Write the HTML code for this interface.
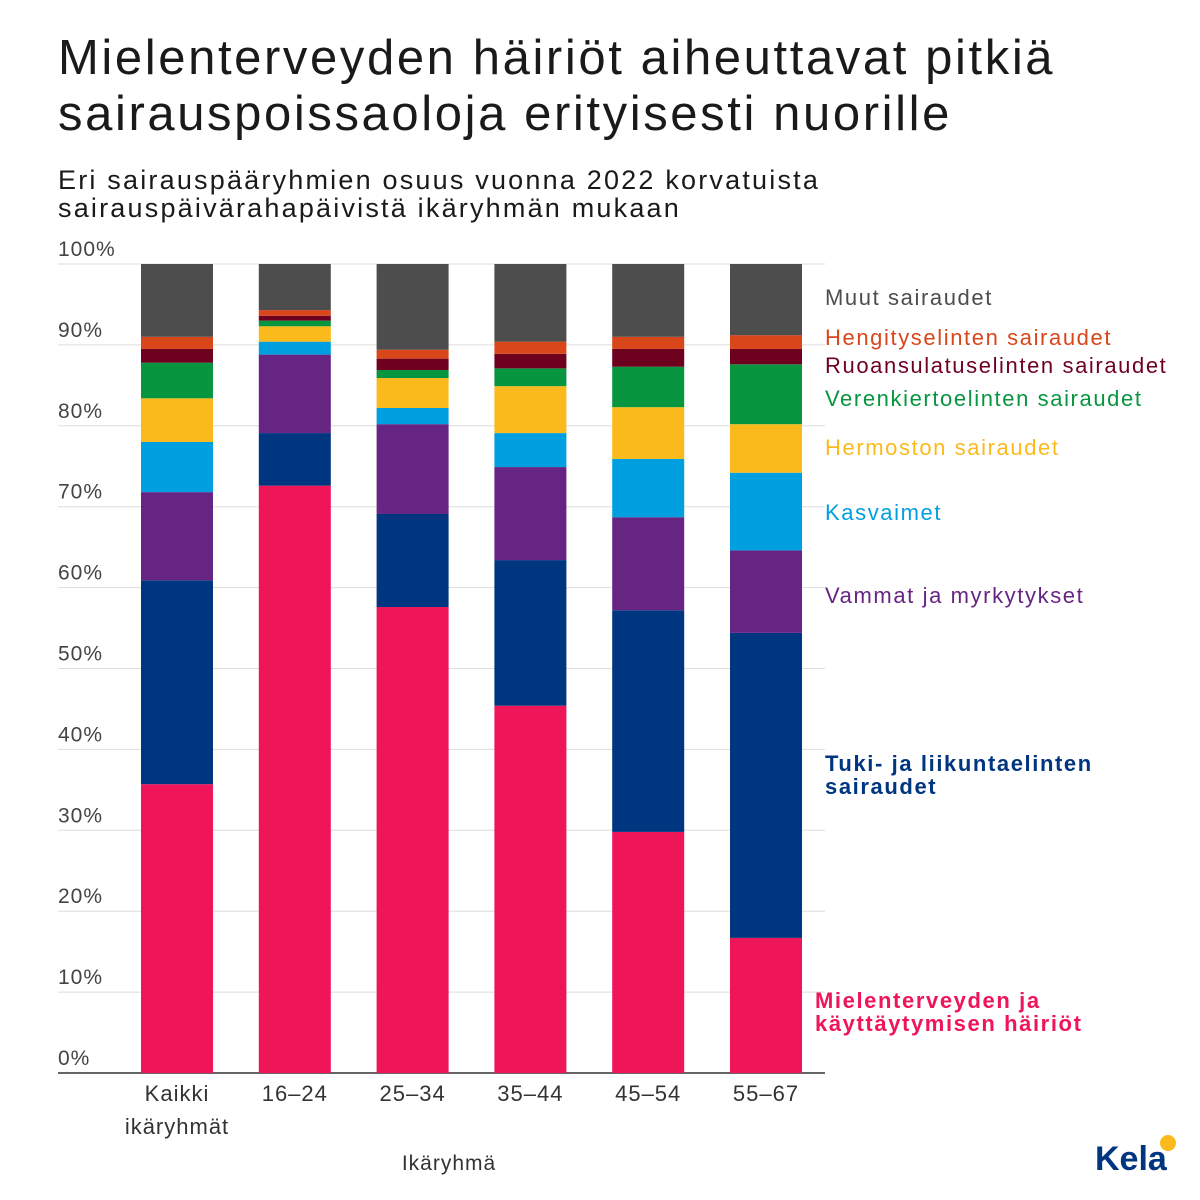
<!DOCTYPE html>
<html><head><meta charset="utf-8"><style>
body{margin:0;background:#fff;font-family:"Liberation Sans",sans-serif;}
#wrap{position:relative;width:1200px;height:1200px;overflow:hidden;}
.t{position:absolute;white-space:nowrap;}
</style></head><body>
<div id="wrap">
<div class="t" style="left:58px;top:30px;font-size:49px;line-height:56px;letter-spacing:2.6px;color:#1a1a1a;">Mielenterveyden häiriöt aiheuttavat pitkiä<br>sairauspoissaoloja erityisesti nuorille</div>
<div class="t" style="left:58px;top:166px;font-size:27px;line-height:28px;letter-spacing:2.2px;color:#1a1a1a;">Eri sairauspääryhmien osuus vuonna 2022 korvatuista<br>sairauspäivärahapäivistä ikäryhmän mukaan</div>
<svg id="chart" width="1200" height="1200" style="position:absolute;left:0;top:0"></svg>
<div class="t" style="left:1095px;top:1140px;font-size:34px;font-weight:bold;color:#003580;">Kela</div>
<div class="t" style="left:1160px;top:1135px;width:16px;height:16px;border-radius:50%;background:#FBBA1B;"></div>
</div>
<script>
const categories=["Kaikki ikäryhmät","16–24","25–34","35–44","45–54","55–67"];
const mental=[35.7,72.6,57.6,45.4,29.8,16.7];
const tuki=[25.2,6.5,11.5,18.0,27.4,37.7];
const vammat=[10.9,9.7,11.1,11.5,11.5,10.2];
const kasvaimet=[6.2,1.6,2.0,4.2,7.2,9.6];
const hermosto=[5.4,1.9,3.7,5.8,6.4,6.0];
const verenkierto=[4.4,0.7,1.0,2.2,5.0,7.4];
const ruoansulatus=[1.7,0.6,1.4,1.8,2.2,1.9];
const hengitys=[1.5,0.7,1.1,1.5,1.5,1.7];
const muut=[9.0,5.7,10.6,9.6,9.0,8.8];
const yTicks=[0,10,20,30,40,50,60,70,80,90,100];
const series=[mental,tuki,vammat,kasvaimet,hermosto,verenkierto,ruoansulatus,hengitys,muut];
const colors=["#EE1559","#003580","#662483","#009FDF","#FBBA1B","#07963F","#6E0020","#D9461A","#4D4D4D"];
const NS="http://www.w3.org/2000/svg";
const svg=document.getElementById('chart');
const y0=1073,y100=264,xL=58,xR=825;
const y=v=>y0-(y0-y100)*v/100;
const x=i=>177+i*117.8;
const bw=72;
function mk(tag,attrs){const e=document.createElementNS(NS,tag);for(const k in attrs)e.setAttribute(k,attrs[k]);svg.appendChild(e);return e;}
yTicks.forEach(t=>{
  const l=mk('line',{x1:xL,x2:xR,y1:y(t),y2:y(t),stroke:t===0?'#333':'#ddd','stroke-width':t===0?1.5:1});
  
  
  const tx=mk('text',{x:xL,y:y(t)-8,'font-size':21,fill:'#444','letter-spacing':1,'font-family':'Liberation Sans, sans-serif'});
  tx.textContent=t+'%';
  
  
});
categories.forEach((c,i)=>{
  let cum=0;
  series.forEach((s,j)=>{
    const top=cum+s[i];
    const r=mk('rect',{x:x(i)-bw/2,y:y(top),width:bw,height:y(cum)-y(top),fill:colors[j]});
    
    
    cum=top;
  });
  const parts=c.split(' ');
  parts.forEach((p,k)=>{
    const tx=mk('text',{x:x(i),y:1101+k*33,'font-size':22,fill:'#333','letter-spacing':1,'text-anchor':'middle','font-family':'Liberation Sans, sans-serif'});
    tx.textContent=p;
    
    
  });
});
const xt=mk('text',{x:449,y:1170,'font-size':21,fill:'#333','letter-spacing':1,'text-anchor':'middle','font-family':'Liberation Sans, sans-serif'});
xt.textContent='Ikäryhmä';


const legend=[
 [8,["Muut sairaudet"],305,false],
 [7,["Hengityselinten sairaudet"],345,false],
 [6,["Ruoansulatuselinten sairaudet"],373,false],
 [5,["Verenkiertoelinten sairaudet"],406,false],
 [4,["Hermoston sairaudet"],455,false],
 [3,["Kasvaimet"],520,false],
 [2,["Vammat ja myrkytykset"],603,false],
 [1,["Tuki- ja liikuntaelinten","sairaudet"],771,true],
 [0,["Mielenterveyden ja","käyttäytymisen häiriöt"],1008,true]];
legend.forEach(([j,lines,yy,b])=>{
  lines.forEach((ln,k)=>{
    const tx=mk('text',{x:j===0?815:825,y:yy+k*23,'font-size':22,fill:colors[j],'letter-spacing':1.6,'font-weight':b?'bold':'normal','font-family':'Liberation Sans, sans-serif'});
    tx.textContent=ln;
    
    
  });
});
</script>
</body></html>
